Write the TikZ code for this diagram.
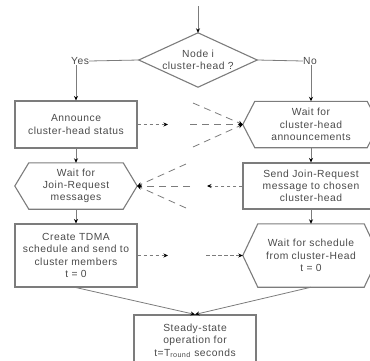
\documentclass[tikz,border=0pt]{standalone}
\usepackage{fontspec}
\setmainfont{Liberation Sans}[LetterSpace=5]
\usetikzlibrary{arrows.meta}
\definecolor{lc}{HTML}{7C7C7C}
\definecolor{tc}{HTML}{4A4A4A}
\tikzset{
  base/.style={inner sep=0pt, align=center, text=tc, font=\fontsize{10.3}{12.3}\selectfont},
  boxnode/.style={base, draw=lc, line width=1.1pt, minimum width=122pt, minimum height=#1},
  hexnode/.style={base, minimum width=136pt, minimum height=#1},
  shapeline/.style={draw=lc, line width=1.1pt},
  plain/.style={draw=lc, line width=0.8pt},
  link/.style={plain, -{Stealth[length=4.5pt,width=4pt,black]}},
  dshort/.style={link, dash pattern=on 3.5pt off 2.5pt},
  dlong/.style={link, dash pattern=on 7pt off 5pt},
}
\newcommand\hexoutline[2]{\draw[shapeline] ([xshift=#2]#1.north west) -- ([xshift=-#2]#1.north east) -- (#1.east) -- ([xshift=-#2]#1.south east) -- ([xshift=#2]#1.south west) -- (#1.west) -- cycle;}
\begin{document}
\begin{tikzpicture}[x=1pt,y=-1pt]
\useasboundingbox (0,0) rectangle (370,360);
\clip (0,0) rectangle (370,360);
% decision
\node[base, minimum width=118pt, minimum height=54pt] (dia) at (198,60) {Node i\\cluster-head ?};
\draw[shapeline] (dia.north) -- (dia.east) -- (dia.south) -- (dia.west) -- cycle;
\coordinate (start) at (198,6);
\draw[link] (start) -- (dia.north);
\node[base] (yes) at (80,61) {Yes};
\node[base] (no) at (310,61) {No};
% left column
\node[boxnode=47pt] (ann) at (76,124.5) {Announce\\cluster-head status};
\node[base, minimum width=122pt, minimum height=46pt] (wjr) at (76,186) {Wait for\\Join-Request\\messages};
\hexoutline{wjr}{14pt}
\node[boxnode=63pt] (tdma) at (76,255.5) {Create TDMA\\schedule and send to\\cluster members\\t = 0};
% right column
\node[hexnode=46pt] (wch) at (311,124.5) {Wait for\\cluster-head\\announcements};
\hexoutline{wch}{12pt}
\node[boxnode=46pt, minimum width=136pt] (sjr) at (311,186) {Send Join-Request\\message to chosen\\cluster-head};
\node[hexnode=63pt] (wfs) at (311,255.5) {Wait for schedule\\from cluster-Head\\t = 0};
\hexoutline{wfs}{15pt}
% bottom
\node[boxnode=52pt] (steady) at (195,341) {Steady-state\\operation for\\t=T\textsubscript{round} seconds};
% decision branches
\draw[plain] (dia.west) -- (yes.east);
\draw[plain] (dia.east) -- (no.west);
\draw[link] (yes.south -| ann.north) -- (ann.north);
\draw[link] (no.south -| wch.north) -- (wch.north);
% vertical flow
\draw[link] (ann) -- (wjr);
\draw[link] (wjr) -- (tdma);
\draw[link] (wch) -- (sjr);
\draw[link] (sjr) -- (wfs);
\draw[link] (tdma.south) -- (steady.north);
\draw[link] (wfs.south) -- (steady.north);
% messages row 1
\coordinate (a1) at (168,124.5);
\coordinate (a2) at (190,124.5);
\coordinate (a3) at (193,103);
\coordinate (a4) at (193,147);
\draw[dshort] (ann) -- (a1);
\draw[dlong] (a2) -- (wch.west);
\draw[dlong] (a3) -- (wch.west);
\draw[dlong] (a4) -- (wch.west);
% messages row 2
\coordinate (b1) at (207,186);
\coordinate (b2) at (190,186);
\coordinate (b3) at (186,164);
\coordinate (b4) at (186,208);
\draw[dshort] (sjr) -- (b1);
\draw[dlong] (b2) -- (wjr.east);
\draw[dlong] (b3) -- (wjr.east);
\draw[dlong] (b4) -- (wjr.east);
% messages row 3
\coordinate (c1) at (168,255.5);
\coordinate (c2) at (206,255.5);
\draw[dshort] (tdma) -- (c1);
\draw[dshort] (c2) -- (wfs.west);
\end{tikzpicture}
\end{document}
